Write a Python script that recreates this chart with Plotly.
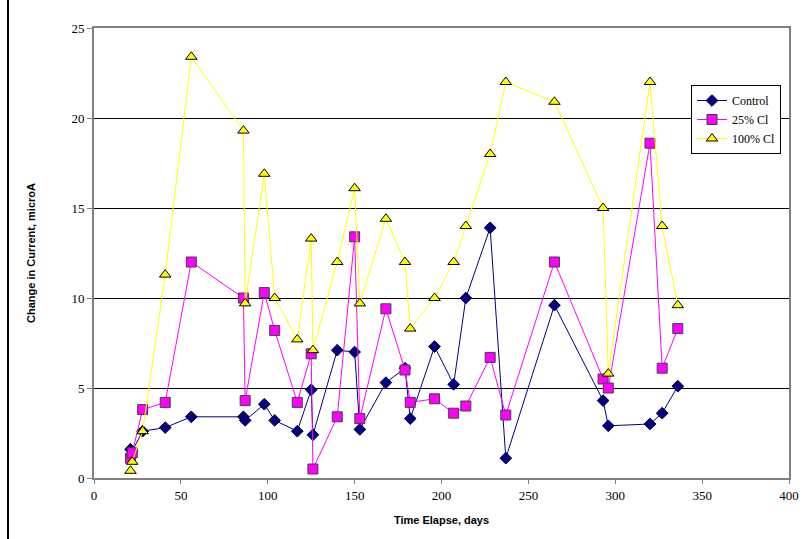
import plotly.graph_objects as go

days = [21, 22, 28, 41, 56, 86, 87, 98, 104, 117, 125, 126, 140, 150, 153, 168,
        179, 182, 196, 207, 214, 228, 237, 265, 293, 296, 320, 327, 336]
control = [1.6, 1.5, 2.6, 2.8, 3.4, 3.4, 3.2, 4.1, 3.2, 2.6, 4.9, 2.4, 7.1, 7.0, 2.7, 5.3,
           6.1, 3.3, 7.3, 5.2, 10.0, 13.9, 1.1, 9.6, 4.3, 2.9, 3.0, 3.6, 5.1]
cl25 = [1.1, 1.4, 3.8, 4.2, 12.0, 10.0, 4.3, 10.3, 8.2, 4.2, 6.9, 0.5, 3.4, 13.4, 3.3, 9.4,
        6.0, 4.2, 4.4, 3.6, 4.0, 6.7, 3.5, 12.0, 5.5, 5.0, 18.6, 6.1, 8.3]
cl100 = [0.4, 0.9, 2.6, 11.3, 23.4, 19.3, 9.7, 16.9, 10.0, 7.7, 13.3, 7.1, 12.0, 16.1, 9.7, 14.4,
         12.0, 8.3, 10.0, 12.0, 14.0, 18.0, 22.0, 20.9, 15.0, 5.8, 22.0, 14.0, 9.6]

SERIF = "Liberation Serif, Times New Roman, serif"
SANS = "Liberation Sans, Arial, sans-serif"

fig = go.Figure()
fig.add_trace(go.Scatter(x=days, y=control, name="Control", mode="lines+markers",
                         line=dict(color="#000080", width=1),
                         marker=dict(symbol="diamond", size=9, color="#000080",
                                     line=dict(color="#000040", width=1))))
fig.add_trace(go.Scatter(x=days, y=cl25, name="25% Cl", mode="lines+markers",
                         line=dict(color="#FF00FF", width=1),
                         marker=dict(symbol="square", size=10, color="#FF00FF",
                                     line=dict(color="#404040", width=1))))
fig.add_trace(go.Scatter(x=days, y=cl100, name="100% Cl", mode="lines+markers",
                         line=dict(color="#FFFF00", width=1),
                         marker=dict(symbol="triangle-up", size=10, color="#FFFF00",
                                     line=dict(color="#000000", width=1))))

L, R, T, B = 94, 15, 28, 61
W, H = 804, 539
pw = W - L - R
ph = H - T - B

fig.update_layout(
    width=W, height=H,
    margin=dict(l=L, r=R, t=T, b=B, autoexpand=False),
    paper_bgcolor="white", plot_bgcolor="white",
    font=dict(family=SERIF, size=13, color="black"),
    legend=dict(x=(691 - L) / pw, y=(ph - (85 - T)) / ph, xanchor="left", yanchor="top",
                bgcolor="white", bordercolor="black", borderwidth=1,
                font=dict(family=SERIF, size=12), tracegroupgap=0,
                itemwidth=30),
    xaxis=dict(range=[0, 400], dtick=50, tick0=0, showgrid=False, zeroline=False,
               automargin=False,
               showline=True, linecolor="#808080", linewidth=2, mirror=True,
               ticks="outside", ticklen=4, tickcolor="#808080",
               tickfont=dict(family=SERIF, size=13),
               title=dict(text="<b>Time Elapse, days</b>",
                          font=dict(family=SANS, size=11), standoff=15)),
    yaxis=dict(range=[0, 25], dtick=5, tick0=0, showgrid=True, gridcolor="black",
               gridwidth=1, zeroline=False, automargin=False,
               showline=True, linecolor="#808080", linewidth=2, mirror=True,
               ticks="outside", ticklen=5, tickcolor="#808080",
               tickfont=dict(family=SERIF, size=13),
               title=dict(text="<b>Change in Current, microA</b>",
                          font=dict(family=SANS, size=11), standoff=34)),
    showlegend=True,
)

fig.add_shape(type="line", xref="paper", yref="paper",
              x0=(8 - L) / pw, x1=(8 - L) / pw, y0=(H - B) / ph + 0.0, y1=-B / ph,
              line=dict(color="black", width=2))

fig.write_html("out.html", config={"displayModeBar": False},
               post_script="document.body.style.margin='0';document.body.style.padding='0';")
